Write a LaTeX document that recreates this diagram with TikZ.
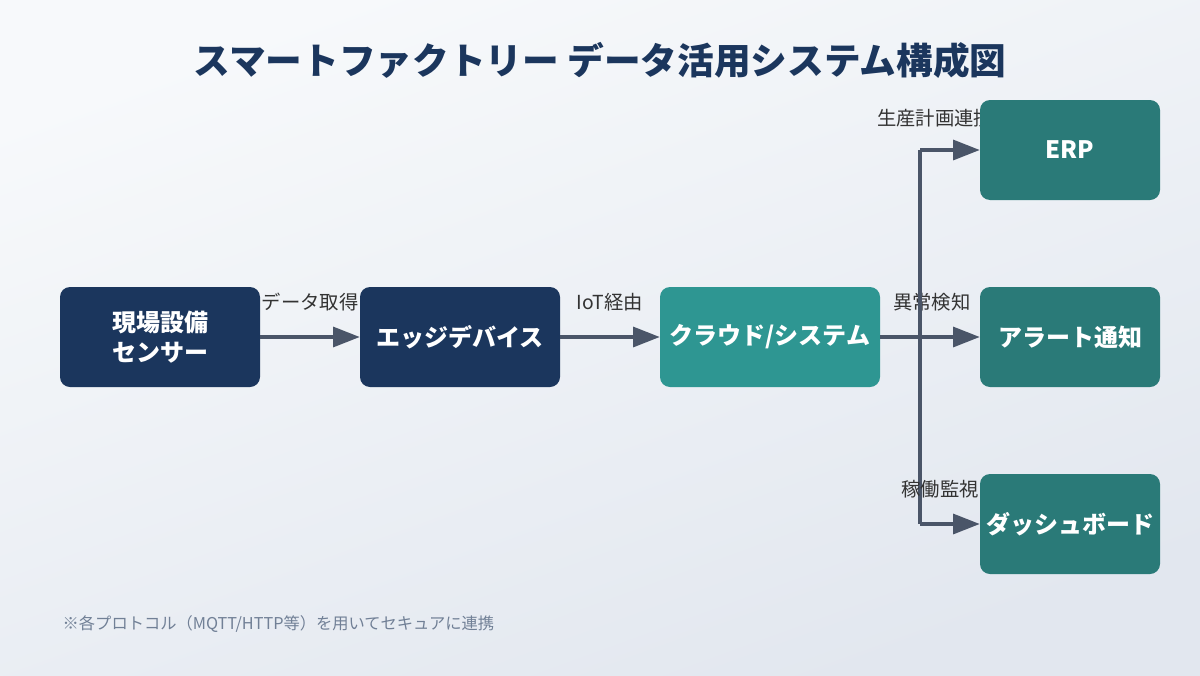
\documentclass[tikz,border=0pt]{standalone}
\usepackage{fontspec}
\setmainfont{Noto Sans CJK JP}
\usetikzlibrary{arrows.meta}
\definecolor{navy}{HTML}{1B365D}
\definecolor{teal1}{HTML}{2E9692}
\definecolor{teal2}{HTML}{2A7A78}
\definecolor{linegray}{HTML}{4A5568}
\definecolor{notegray}{HTML}{718096}
\definecolor{bgtop}{HTML}{F7F9FB}
\definecolor{bgbot}{HTML}{E2E7EF}
\tikzset{
  box/.style={rectangle,rounded corners=7.5pt,text=white,font=\fontsize{18}{22}\selectfont\bfseries,align=center,inner sep=0pt},
  flow/.style={draw=linegray,line width=2.4pt,-{Triangle[length=20pt,width=15pt]}},
  lbl/.style={text=black!80,font=\fontsize{14.5}{17}\selectfont}
}
\begin{document}
\begin{tikzpicture}[x=0.75pt,y=-0.75pt]
	\shade[top color=bgtop,bottom color=bgbot,shading angle=20] (0,0) rectangle (1200,675);
	\useasboundingbox (0,0) rectangle (1200,675);
	\node[text=navy,font=\fontsize{27.5}{32}\selectfont\bfseries] (title) at (600,60) {スマートファクトリー データ活用システム構成図};
	\node[lbl] (lerp) at (935,118) {生産計画連携};
	\node[box,fill=navy,minimum width=150pt,minimum height=75pt] (sensor) at (160,337) {現場設備\\センサー};
	\node[box,fill=navy,minimum width=150pt,minimum height=75pt] (edge) at (460,337) {エッジデバイス};
	\node[box,fill=teal1,minimum width=165pt,minimum height=75pt] (cloud) at (770,337) {クラウド/システム};
	\node[box,fill=teal2,minimum width=135pt,minimum height=75pt] (erp) at (1070,150) {ERP};
	\node[box,fill=teal2,minimum width=135pt,minimum height=75pt] (alert) at (1070,337) {アラート通知};
	\node[box,fill=teal2,minimum width=135pt,minimum height=75pt] (dash) at (1070,524) {ダッシュボード};
	\coordinate (top) at (920,150);
	\coordinate (bot) at (920,524);
	\draw[flow] (sensor) -- (edge) node[lbl,midway,above=15pt] {データ取得};
	\draw[flow] (edge) -- (cloud) node[lbl,midway,above=15pt] {IoT経由};
	\draw[flow] (cloud) -- (alert) node[lbl,pos=0.52,above=15pt] {異常検知};
	\draw[line width=2.4pt,draw=linegray] (top) -- (bot);
	\draw[flow] (top) -- (erp);
	\draw[flow] (bot) -- (dash);
	\node[lbl] (ldash) at (940,489) {稼働監視};
	\node[text=notegray,anchor=west,font=\fontsize{12.2}{14}\selectfont] (note) at (58,624) {※各プロトコル（MQTT/HTTP等）を用いてセキュアに連携};
\end{tikzpicture}
\end{document}
